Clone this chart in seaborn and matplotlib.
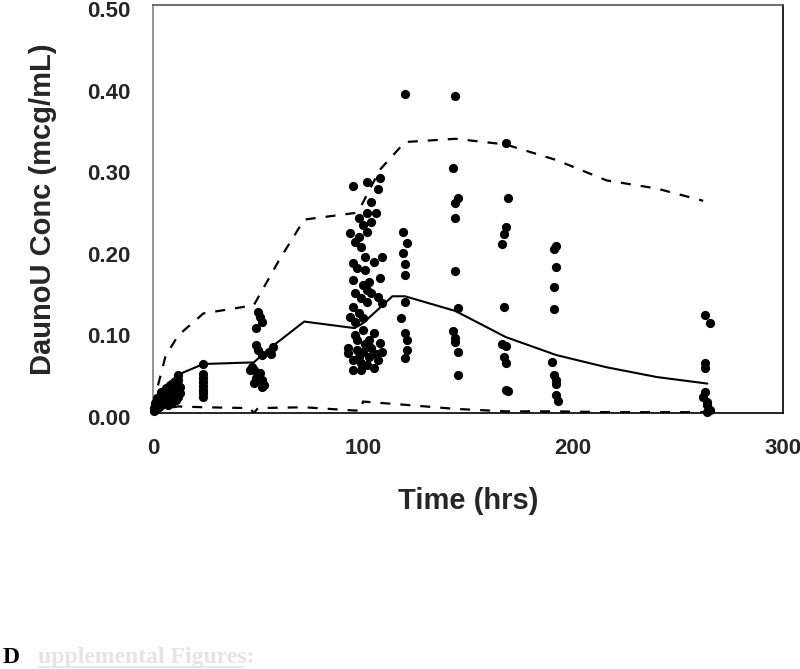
import numpy as np
import pandas as pd
import seaborn as sns
import matplotlib.pyplot as plt
import matplotlib.transforms as mtrans
from matplotlib.lines import Line2D

# observed concentrations (time in hrs, conc in mcg/mL)
obs_time = [0.5, 0.5, 1, 1, 1, 2, 2, 2, 3, 3, 4, 4, 4, 4, 6, 6, 6, 6, 8, 8, 8, 8,
            10, 10, 10, 10, 12, 12, 12, 12, 12, 1.5, 3, 5, 7, 9, 11, 13, 13,
            24, 24, 24, 24, 24, 24, 24, 24,
            50, 51, 52, 49, 49, 50, 52, 47, 48, 51, 46, 49, 52, 48, 52, 53, 57, 55, 56,
            108, 102, 95, 107, 104, 106, 102, 98, 104, 100, 102, 94, 98, 96, 99, 101,
            109, 105, 95, 97, 101, 108, 95, 103, 100, 102, 104, 96, 99, 107, 102, 109,
            95, 98, 94, 96, 100, 100, 105, 103, 108, 93, 97, 100, 103, 109, 95, 99,
            102, 107, 95, 99, 105, 93, 97, 104, 106, 98, 101, 96,
            120, 119, 121, 119, 120, 120, 120, 118, 120, 121, 121, 120,
            144, 143, 145, 144, 144, 144, 145, 143, 144, 145, 145, 144,
            168, 169, 168, 167, 166, 167, 166, 168, 167, 168, 168, 169,
            192, 191, 192, 191, 191, 190, 191, 192, 192, 192, 193,
            263, 265, 263, 263, 263, 262, 264, 264, 265, 264]
obs_conc = [0.003, 0.006, 0.004, 0.009, 0.012, 0.008, 0.014, 0.018, 0.012, 0.020,
            0.010, 0.016, 0.022, 0.026, 0.014, 0.020, 0.026, 0.030, 0.016, 0.022,
            0.028, 0.034, 0.018, 0.025, 0.030, 0.036, 0.020, 0.027, 0.033, 0.040, 0.046,
            0.005, 0.007, 0.012, 0.010, 0.014, 0.016, 0.024, 0.032,
            0.060, 0.048, 0.043, 0.038, 0.033, 0.028, 0.024, 0.020,
            0.124, 0.118, 0.112, 0.104, 0.083, 0.077, 0.071, 0.056, 0.053, 0.049,
            0.053, 0.043, 0.040, 0.037, 0.032, 0.034, 0.081, 0.075, 0.072,
            0.288, 0.283, 0.278, 0.274, 0.259, 0.245, 0.245, 0.239, 0.234, 0.230,
            0.222, 0.220, 0.216, 0.210, 0.204, 0.191, 0.191, 0.185, 0.184, 0.178,
            0.175, 0.165, 0.163, 0.161, 0.157, 0.151, 0.147, 0.147, 0.141, 0.142,
            0.136, 0.135, 0.130, 0.122, 0.118, 0.112, 0.116, 0.102, 0.098, 0.089,
            0.086, 0.073, 0.077, 0.075, 0.069, 0.075, 0.065, 0.061, 0.059, 0.065,
            0.053, 0.053, 0.055, 0.080, 0.090, 0.080, 0.072, 0.068, 0.085, 0.095,
            0.391, 0.222, 0.208, 0.196, 0.183, 0.169, 0.136, 0.116, 0.098, 0.089, 0.077, 0.067,
            0.389, 0.300, 0.263, 0.257, 0.239, 0.174, 0.129, 0.100, 0.087, 0.075, 0.047, 0.092,
            0.331, 0.263, 0.228, 0.219, 0.207, 0.130, 0.085, 0.082, 0.069, 0.061, 0.028, 0.027,
            0.205, 0.201, 0.179, 0.154, 0.127, 0.063, 0.047, 0.040, 0.036, 0.022, 0.015,
            0.120, 0.110, 0.061, 0.055, 0.026, 0.020, 0.013, 0.010, 0.004, 0.001]

# model prediction: median and 90% interval
pred_time = [0, 2, 4, 8, 12, 24, 48, 56, 72, 96, 100, 114, 120, 144, 168, 192, 216, 240, 264]
pred_med = [0.003, 0.015, 0.025, 0.038, 0.047, 0.060, 0.062, 0.080, 0.112, 0.104,
            0.110, 0.143, 0.143, 0.125, 0.093, 0.071, 0.056, 0.044, 0.036]
upper_time = [0, 2, 6, 12, 24, 48, 60, 72, 96, 99, 108, 120, 144, 168, 192, 216, 240, 262]
upper_conc = [0.010, 0.030, 0.070, 0.095, 0.122, 0.132, 0.187, 0.237, 0.245, 0.253,
              0.298, 0.332, 0.336, 0.329, 0.310, 0.285, 0.275, 0.260]
lower_time = [0, 4, 12, 24, 46, 48, 50, 72, 96, 99, 100, 120, 144, 168, 192, 216, 264]
lower_conc = [0.001, 0.005, 0.008, 0.007, 0.006, 0.000, 0.006, 0.007, 0.003, 0.003,
              0.014, 0.010, 0.005, 0.002, 0.002, 0.001, 0.001]

sns.set_style("white")
plt.rcParams["font.family"] = ["Liberation Sans", "DejaVu Sans"]

fig = plt.figure(figsize=(8, 6.69), dpi=100)
ax = fig.add_axes([0.19125, 0.3827, 0.7875, 0.6099])

sns.lineplot(x=pred_time, y=pred_med, ax=ax, color="black", lw=1.5,
             estimator=None, sort=False)
sns.lineplot(x=upper_time, y=upper_conc, ax=ax, color="black", lw=1.6,
             linestyle=(0, (4.5, 4.5)), estimator=None, sort=False)
sns.lineplot(x=lower_time, y=lower_conc, ax=ax, color="black", lw=1.6,
             linestyle=(0, (4.5, 4.5)), estimator=None, sort=False)
sns.scatterplot(x=obs_time, y=obs_conc, ax=ax, color="black", s=44,
                edgecolor="black", linewidth=0, clip_on=False, zorder=3)

ax.set_xlim(0, 300)
ax.set_ylim(0, 0.5)
ax.set_xticks([0, 100, 200, 300])
ax.set_yticks([0, 0.1, 0.2, 0.3, 0.4, 0.5])
ax.set_yticklabels(["%.2f" % v for v in [0, 0.1, 0.2, 0.3, 0.4, 0.5]])
ax.tick_params(direction="in", length=6, width=1, color="#808080",
               labelsize=16, pad=16)
ax.tick_params(axis="x", pad=18)
shift = mtrans.ScaledTranslation(0, -4 / 100, fig.dpi_scale_trans)
for lab in ax.get_yticklabels():
    lab.set_fontweight("bold")
    lab.set_transform(lab.get_transform() + shift)
for lab in ax.get_xticklabels():
    lab.set_fontweight("bold")

ax.spines["left"].set_color("#808080")
ax.spines["top"].set_color("#555555")
ax.spines["right"].set_color("black")
ax.spines["bottom"].set_color("black")
for s in ax.spines.values():
    s.set_linewidth(1.2)

ax.set_xlabel("Time (hrs)", fontsize=21, fontweight="bold", labelpad=20)
ax.set_ylabel("DaunoU Conc (mcg/mL)", fontsize=21, fontweight="bold", labelpad=22)

fig.text(0.003, 0.009, "D", fontsize=17, fontweight="bold", family="Liberation Serif",
         color="black", va="baseline")
fig.text(0.047, 0.009, "upplemental Figures:", fontsize=17, fontweight="bold",
         family="Liberation Serif", color="#e4e4e4", va="baseline")
fig.add_artist(Line2D([0.047, 0.305], [0.003, 0.003], color="#e4e4e4", lw=1.2,
                      transform=fig.transFigure))

plt.savefig("out.png", dpi=100)
